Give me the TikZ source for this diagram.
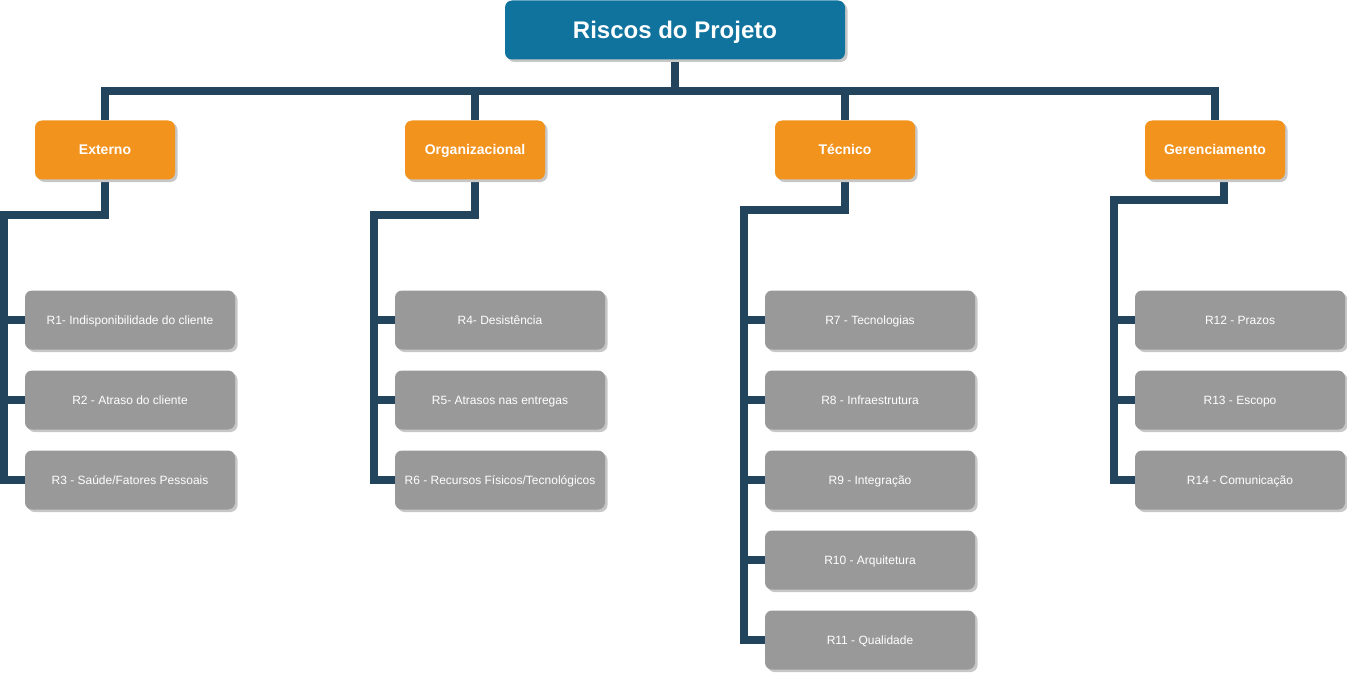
\documentclass[tikz,border=0pt]{standalone}
\usepackage{fontspec}
\setmainfont{Liberation Sans}
\usetikzlibrary{shadows}
\definecolor{rootblue}{HTML}{10739E}
\definecolor{catorange}{HTML}{F2931E}
\definecolor{riskgray}{HTML}{999999}
\definecolor{linkblue}{HTML}{23445D}
\pgfdeclarelayer{background layer}
\pgfsetlayers{background layer,main}
\tikzstyle{box}=[rectangle,rounded corners=7pt,text=white,align=center,inner sep=0pt,drop shadow={shadow xshift=2.5pt,shadow yshift=-2.5pt,fill=black!22,opacity=1}]
\tikzstyle{root}=[box,fill=rootblue,minimum width=340pt,minimum height=59pt,text height=21.6pt,text depth=5pt,font=\fontsize{24}{28}\selectfont\bfseries]
\tikzstyle{cat}=[box,fill=catorange,minimum width=140pt,minimum height=59pt,text height=12.6pt,text depth=2.9pt,font=\fontsize{14}{17}\selectfont\bfseries]
\tikzstyle{risk}=[box,fill=riskgray,minimum width=210pt,minimum height=59pt,text height=10.8pt,text depth=2.5pt,font=\fontsize{12}{14}\selectfont]
\tikzstyle{link}=[draw=linkblue,line width=8pt]

\begin{document}
\begin{tikzpicture}[x=1pt,y=-1pt]
			\useasboundingbox (0,0) rectangle (1347,674);
			\node (riscos) at (675,30) [root] {Riscos do Projeto};
			% categorias
			\node (ext) at (105,150) [cat] {Externo};
			\node (org) at (475,150) [cat] {Organizacional};
			\node (tec) at (845,150) [cat] {T\'ecnico};
			\node (ger) at (1215,150) [cat] {Gerenciamento};
			% riscos
			\node (r1) at (130,320) [risk] {R1- Indisponibilidade do cliente};
			\node (r2) at (130,400) [risk] {R2 - Atraso do cliente};
			\node (r3) at (130,480) [risk] {R3 - Saúde/Fatores Pessoais};
			\node (r4) at (500,320) [risk] {R4- Desistência};
			\node (r5) at (500,400) [risk] {R5- Atrasos nas entregas};
			\node (r6) at (500,480) [risk] {R6 - Recursos Físicos/Tecnológicos};
			\node (r7) at (870,320) [risk] {R7 - Tecnologias};
			\node (r8) at (870,400) [risk] {R8 - Infraestrutura};
			\node (r9) at (870,480) [risk] {R9 - Integração};
			\node (r10) at (870,560) [risk] {R10 - Arquitetura};
			\node (r11) at (870,640) [risk] {R11 - Qualidade};
			\node (r12) at (1240,320) [risk] {R12 - Prazos};
			\node (r13) at (1240,400) [risk] {R13 - Escopo};
			\node (r14) at (1240,480) [risk] {R14 - Comunicação};
			\coordinate (topbus) at (675,91);
			\coordinate (extbus) at (4,215);
			\coordinate (orgbus) at (374,215);
			\coordinate (tecbus) at (744,210);
			\coordinate (gerbus) at (1114,200);
			\begin{pgfonlayer}{background layer}
				\foreach \c in {ext,org,tec,ger}
					\draw[link] (riscos.south) -- (topbus) -| (\c.north);
				\foreach \r in {r1,r2,r3}
					\draw[link] (ext.south) |- (extbus) |- (\r.west);
				\foreach \r in {r4,r5,r6}
					\draw[link] (org.south) |- (orgbus) |- (\r.west);
				\foreach \r in {r7,r8,r9,r10,r11}
					\draw[link] (tec.south) |- (tecbus) |- (\r.west);
				\foreach \r in {r12,r13,r14}
					\draw[link] ([xshift=9pt]ger.south) |- (gerbus) |- (\r.west);
			\end{pgfonlayer}
		\end{tikzpicture}
\end{document}
